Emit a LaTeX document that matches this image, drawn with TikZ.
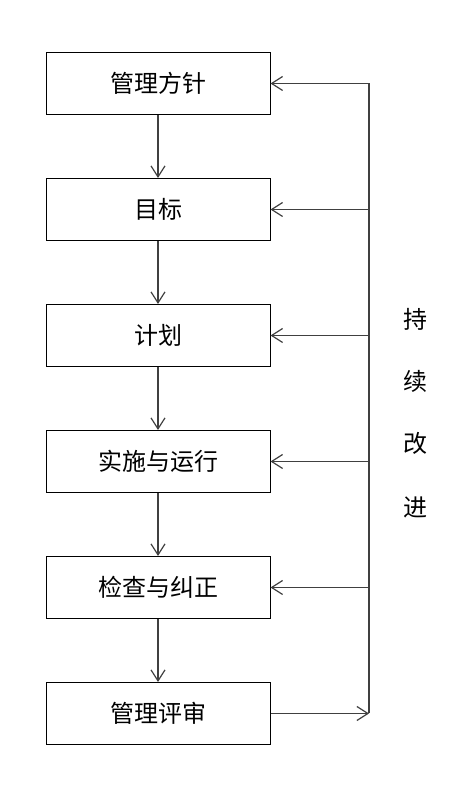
\documentclass[tikz,border=0pt]{standalone}
\usepackage{fontspec}
\setmainfont{Noto Sans CJK SC}
\usetikzlibrary{positioning,arrows.meta}

\begin{document}
\begin{tikzpicture}[x=1pt, y=1pt,
    every node/.append style={font=\fontsize{24}{28}\selectfont},
    box/.style={draw, line width=1pt, minimum width=224pt, minimum height=62pt, inner sep=0pt},
    flow/.style={draw=black!75, line width=1.2pt, -{Straight Barb[length=11pt,width=14pt]}},
    node distance=63pt]

    \useasboundingbox (0,0) rectangle (465,798);

    \def\xr{369}        % x of the feedback line on the right

    % Main chain, top to bottom
    \node[box] (mgmt) at (158,714.5) {管理方针};
    \node[box, below=of mgmt] (goal) {目标};
    \node[box, below=of goal] (plan) {计划};
    \node[box, below=of plan] (run) {实施与运行};
    \node[box, below=of run] (check) {检查与纠正};
    \node[box, below=of check] (review) {管理评审};

    \foreach \a/\b in {mgmt/goal, goal/plan, plan/run, run/check, check/review}
        \draw[flow] (\a) -- (\b);

    % Feedback loop
    \coordinate (fb) at (\xr,0);
    \draw[flow] (review.east) -- (review.east -| fb);
    \draw[draw=black!75, line width=1.2pt] (review.east -| fb) -- (mgmt.east -| fb);
    \foreach \n in {mgmt, goal, plan, run, check}
        \draw[flow] (\n.east -| fb) -- (\n.east);

    % Vertical label
    \foreach \c/\y [count=\i] in {持/479, 续/417, 改/355, 进/291}
        \node (lbl\i) at (415,\y) {\c};

\end{tikzpicture}
\end{document}
